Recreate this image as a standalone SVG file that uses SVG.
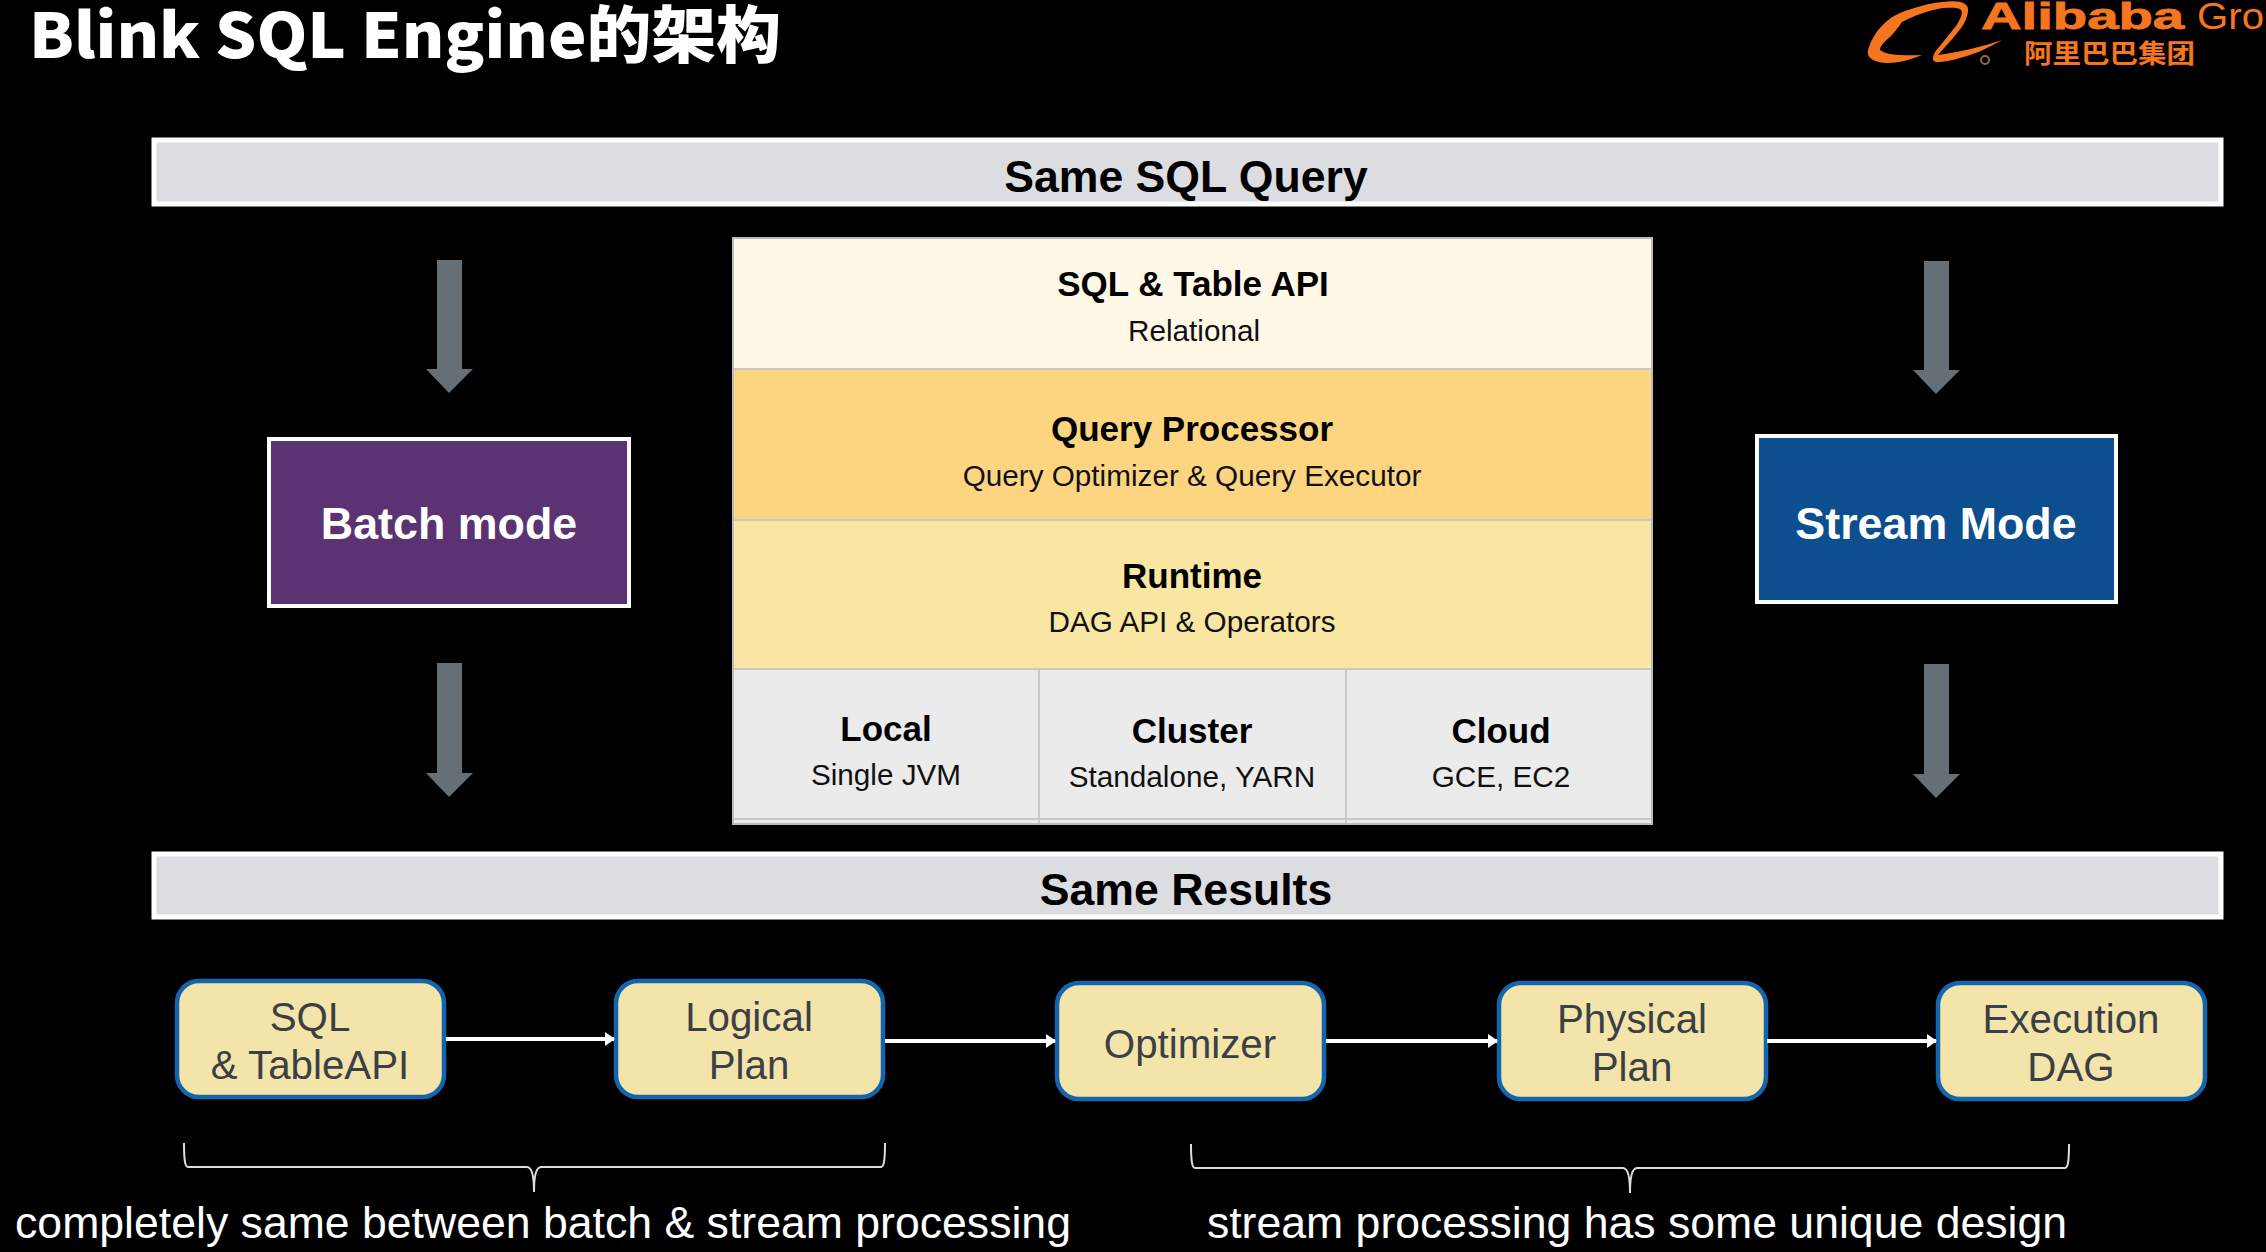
<svg xmlns="http://www.w3.org/2000/svg" width="2266" height="1252" viewBox="0 0 2266 1252">
<style>
text{font-family:"Liberation Sans",Arial,sans-serif;text-anchor:middle}
.bar{fill:#dcdde1;stroke:#fff;stroke-width:5}
.h{font-weight:bold;font-size:44.6px;fill:#000}
.t{font-weight:bold;font-size:35px;fill:#000}
.s{font-size:29.7px;fill:#111}
.mode{stroke:#fff;stroke-width:4}
.mt{font-weight:bold;font-size:44.8px;fill:#fff}
.div{stroke:#c8c8c8;stroke-width:2;fill:none}
.step{fill:#f3e4a9;stroke:#1465b0;stroke-width:4.5}
.st{font-size:40.3px;fill:#3c3f45}
.cap{font-size:44.6px;fill:#fff}
.ga{fill:#666e76}
.flow{stroke:#fff;stroke-width:4;fill:none;marker-end:url(#ah)}
.brace{stroke:#ddd;stroke-width:2;fill:none}
</style>
<defs><marker id="ah" markerUnits="userSpaceOnUse" markerWidth="10" markerHeight="14" refX="9" refY="7" orient="auto"><path d="M0 0L10 7L0 14Z" fill="#fff"/></marker></defs>
<rect width="2266" height="1252" fill="#000"/>
<text id="title" x="29" y="58" style="text-anchor:start;font-family:'Noto Sans CJK SC','Noto Sans',sans-serif;font-weight:900;font-size:62px;fill:#fff" textLength="752" lengthAdjust="spacingAndGlyphs">Blink SQL Engine的架构</text>
<g id="logo">
<path d="M1868 50C1874 30 1888 18 1900 13C1915 7 1930 3 1943 2C1958 0 1970 2 1968 12C1966 22 1962 27 1958 32C1950 42 1943 49 1938 55C1960 52 1985 46 2002 40C1985 50 1972 55 1960 58C1950 61 1943 62 1937 62C1932 62 1932 58 1935 52C1942 44 1950 33 1956 26C1961 18 1963 13 1961 10C1958 7 1950 8 1943 8C1930 10 1915 15 1902 22C1898 28 1893 34 1890 37C1884 42 1880 46 1880 50C1885 55 1905 56 1922 55C1910 60 1898 63 1888 63C1875 63 1866 58 1868 50Z" fill="#f5761e"/>
<circle cx="1985" cy="60" r="4" fill="none" stroke="#8a6a40" stroke-width="2"/>
<text x="1981" y="29" style="text-anchor:start;font-weight:bold;font-size:36px;fill:#f5761e;stroke:#f5761e;stroke-width:.8" textLength="203" lengthAdjust="spacingAndGlyphs">Alibaba</text>
<text x="2197" y="29" style="text-anchor:start;font-size:36px;fill:#f5761e" textLength="67" lengthAdjust="spacingAndGlyphs">Gro</text>
<text x="2024" y="63" style="text-anchor:start;font-family:'Noto Sans CJK SC',sans-serif;font-weight:700;font-size:26px;fill:#f5761e" textLength="171" lengthAdjust="spacingAndGlyphs">阿里巴巴集团</text>
</g>
<g id="query"><rect class="bar" x="154" y="140" width="2067" height="64"/><text class="h" x="1186" y="192">Same SQL Query</text></g>
<g id="results"><rect class="bar" x="154" y="854" width="2067" height="63"/><text class="h" x="1186" y="905">Same Results</text></g>
<g id="batch"><rect class="mode" x="269" y="439" width="360" height="167" fill="#5b3372"/><text class="mt" x="449" y="539">Batch mode</text></g>
<g id="stream"><rect class="mode" x="1757" y="436" width="359" height="166" fill="#0c4e8e"/><text class="mt" x="1936" y="539">Stream Mode</text></g>
<g id="stack">
<rect x="733" y="238" width="919" height="586" fill="#ebebeb"/>
<rect x="733" y="238" width="919" height="131" fill="#fff8e6"/>
<rect x="733" y="369" width="919" height="151" fill="#fdd581"/>
<rect x="733" y="520" width="919" height="149" fill="#f8e6a2"/>
<path class="div" d="M733 369H1652M733 520H1652M733 669H1652M733 819H1652M1039 669V824M1346 669V824"/>
<rect x="733" y="238" width="919" height="586" fill="none" stroke="#bbb" stroke-width="2"/>
<text class="t" x="1193" y="296">SQL &amp; Table API</text><text class="s" x="1194" y="341">Relational</text>
<text class="t" x="1192" y="441">Query Processor</text><text class="s" x="1192" y="486">Query Optimizer &amp; Query Executor</text>
<text class="t" x="1192" y="588">Runtime</text><text class="s" x="1192" y="632">DAG API &amp; Operators</text>
<text class="t" x="886" y="741">Local</text><text class="s" x="886" y="785">Single JVM</text>
<text class="t" x="1192" y="743">Cluster</text><text class="s" x="1192" y="787">Standalone, YARN</text>
<text class="t" x="1501" y="743">Cloud</text><text class="s" x="1501" y="787">GCE, EC2</text>
</g>
<g id="s1"><rect class="step" x="177" y="981" width="267" height="116" rx="22"/><text class="st" x="310" y="1031">SQL</text><text class="st" x="310" y="1079">&amp; TableAPI</text></g>
<g id="s2"><rect class="step" x="616" y="981" width="267" height="116" rx="22"/><text class="st" x="749" y="1031">Logical</text><text class="st" x="749" y="1079">Plan</text></g>
<g id="s3"><rect class="step" x="1057" y="983" width="267" height="116" rx="22"/><text class="st" x="1190" y="1058">Optimizer</text></g>
<g id="s4"><rect class="step" x="1499" y="983" width="267" height="116" rx="22"/><text class="st" x="1632" y="1033">Physical</text><text class="st" x="1632" y="1081">Plan</text></g>
<g id="s5"><rect class="step" x="1938" y="983" width="267" height="116" rx="22"/><text class="st" x="2071" y="1033">Execution</text><text class="st" x="2071" y="1081">DAG</text></g>
<g id="connectors">
<path class="ga" d="M437 260H462V369H473L449 393L426 369H437Z"/>
<path class="ga" d="M437 663H462V773H473L449 797L426 773H437Z"/>
<path class="ga" d="M1924 261H1949V370H1960L1936 394L1913 370H1924Z"/>
<path class="ga" d="M1924 664H1949V774H1960L1936 798L1913 774H1924Z"/>
<path class="flow" d="M446 1039H614"/>
<path class="flow" d="M885 1041H1055"/>
<path class="flow" d="M1326 1041H1497"/>
<path class="flow" d="M1767 1041H1936"/>
<path class="brace" d="M184 1143C184 1160 185 1167 188 1167H527C532 1167 534 1175 534 1192C534 1175 536 1167 541 1167H881C884 1167 885 1160 885 1143"/>
<path class="brace" d="M1191 1144C1191 1161 1192 1168 1195 1168H1623C1628 1168 1630 1176 1630 1193C1630 1176 1632 1168 1637 1168H2065C2068 1168 2069 1161 2069 1144"/>
</g>
<text class="cap" x="543" y="1238" id="c1">completely same between batch &amp; stream processing</text>
<text class="cap" x="1637" y="1238" id="c2">stream processing has some unique design</text>
</svg>
